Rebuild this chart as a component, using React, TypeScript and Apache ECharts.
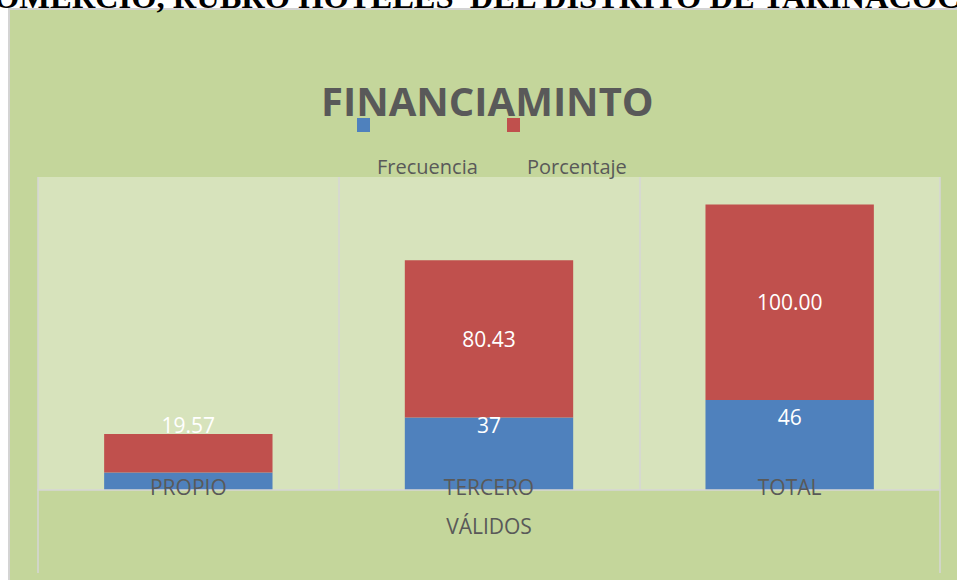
import React, { useEffect, useRef } from "react";
import * as echarts from "echarts";

const categories = ["PROPIO", "TERCERO", "TOTAL"];
const groupLabels = ["VÁLIDOS"];
const seriesNames = ["Frecuencia", "Porcentaje"];
const frecuencia = [9, 37, 46];
const porcentaje = [19.57, 80.43, 100.0];
const chartTitle = "FINANCIAMINTO";
const heading = "OMERCIO, RUBRO HOTELES  DEL DISTRITO DE YARINACOC";

export default function App() {
  const ref = useRef<HTMLDivElement>(null);

  useEffect(() => {
    if (!ref.current) return;
    const chart = echarts.init(ref.current, null, { renderer: "svg" });
    const gray = "#595959";
    const lineGray = "#d6d6d6";
    const font = "Open Sans";

    const freqLabels = [
      { show: false },
      { show: true, position: "insideTop", distance: -3 },
      { show: true, position: "insideTop", distance: 6 },
    ];
    const pctLabels = [
      { show: true, position: "top", distance: -1 },
      { show: true, position: "inside" },
      { show: true, position: "inside" },
    ];

    const labelBase = { color: "#ffffff", fontSize: 21, fontFamily: font };

    chart.setOption({
      animation: false,
      backgroundColor: "transparent",
      title: {
        text: chartTitle,
        left: 321,
        top: 80,
        padding: 0,
        textStyle: { color: gray, fontSize: 40, fontWeight: "bold", fontFamily: font },
      },
      legend: [
        {
          data: [seriesNames[0]],
          left: 357,
          top: 118,
          padding: 0,
          itemWidth: 13,
          itemHeight: 14,
          icon: "rect",
          selectedMode: false,
          formatter: () => "",
        },
        {
          data: [seriesNames[1]],
          left: 507,
          top: 118,
          padding: 0,
          itemWidth: 13,
          itemHeight: 14,
          icon: "rect",
          selectedMode: false,
          formatter: () => "",
        },
      ],
      graphic: [
        {
          type: "text",
          x: -6,
          y: -3,
          style: {
            text: heading,
            font: 'bold 32.5px "Liberation Serif"',
            fill: "#000000",
            verticalAlign: "middle",
          },
        },
        {
          type: "text",
          x: 377,
          y: 166,
          style: {
            text: seriesNames[0],
            font: '20px "Open Sans"',
            fill: gray,
            verticalAlign: "middle",
          },
        },
        {
          type: "text",
          x: 527,
          y: 166,
          style: {
            text: seriesNames[1],
            font: '20px "Open Sans"',
            fill: gray,
            verticalAlign: "middle",
          },
        },
      ],
      grid: [
        {
          left: 38,
          right: 17,
          top: 177,
          bottom: 90,
          show: true,
          backgroundColor: "#d7e3bc",
          borderWidth: 0,
        },
        { left: 38, right: 17, top: 177, bottom: 90, show: false },
      ],
      xAxis: [
        {
          type: "category",
          gridIndex: 0,
          data: categories,
          z: 5,
          axisLine: { show: true, lineStyle: { color: lineGray, width: 1.5 } },
          axisTick: { show: false },
          splitLine: { show: true, lineStyle: { color: lineGray, width: 1.5 } },
          axisLabel: { color: gray, fontSize: 21, fontFamily: font, margin: -14 },
        },
        {
          type: "category",
          gridIndex: 1,
          data: groupLabels,
          position: "bottom",
          axisLine: { show: false },
          axisTick: { show: true, length: 83, lineStyle: { color: lineGray, width: 1.5 } },
          splitLine: { show: false },
          axisLabel: { color: gray, fontSize: 21, fontFamily: font, margin: 25 },
        },
      ],
      yAxis: [
        { type: "value", gridIndex: 0, min: 0, max: 160, show: false, splitLine: { show: false } },
        { type: "value", gridIndex: 1, min: 0, max: 160, show: false, splitLine: { show: false } },
      ],
      series: [
        {
          name: seriesNames[0],
          type: "bar",
          stack: "total",
          barWidth: "56%",
          itemStyle: { color: "#4f81bd" },
          label: { ...labelBase },
          data: frecuencia.map((v, i) => ({ value: v, label: freqLabels[i] })),
        },
        {
          name: seriesNames[1],
          type: "bar",
          stack: "total",
          barWidth: "56%",
          itemStyle: { color: "#c0504d" },
          label: { ...labelBase, formatter: (p: any) => Number(p.value).toFixed(2) },
          data: porcentaje.map((v, i) => ({ value: v, label: pctLabels[i] })),
        },
      ],
    });

    return () => chart.dispose();
  }, []);

  return (
    <div style={{ position: "absolute", left: 0, top: 0, width: 957, height: 580, background: "#ffffff", overflow: "hidden" }}>
      <div
        style={{
          position: "absolute",
          left: 8,
          top: 8,
          width: 960,
          height: 580,
          background: "#c4d69b",
          border: "2px solid #d4d4d4",
          boxSizing: "border-box",
        }}
      />
      <div ref={ref} style={{ position: "absolute", left: 0, top: 0, width: 957, height: 580 }} />
    </div>
  );
}
